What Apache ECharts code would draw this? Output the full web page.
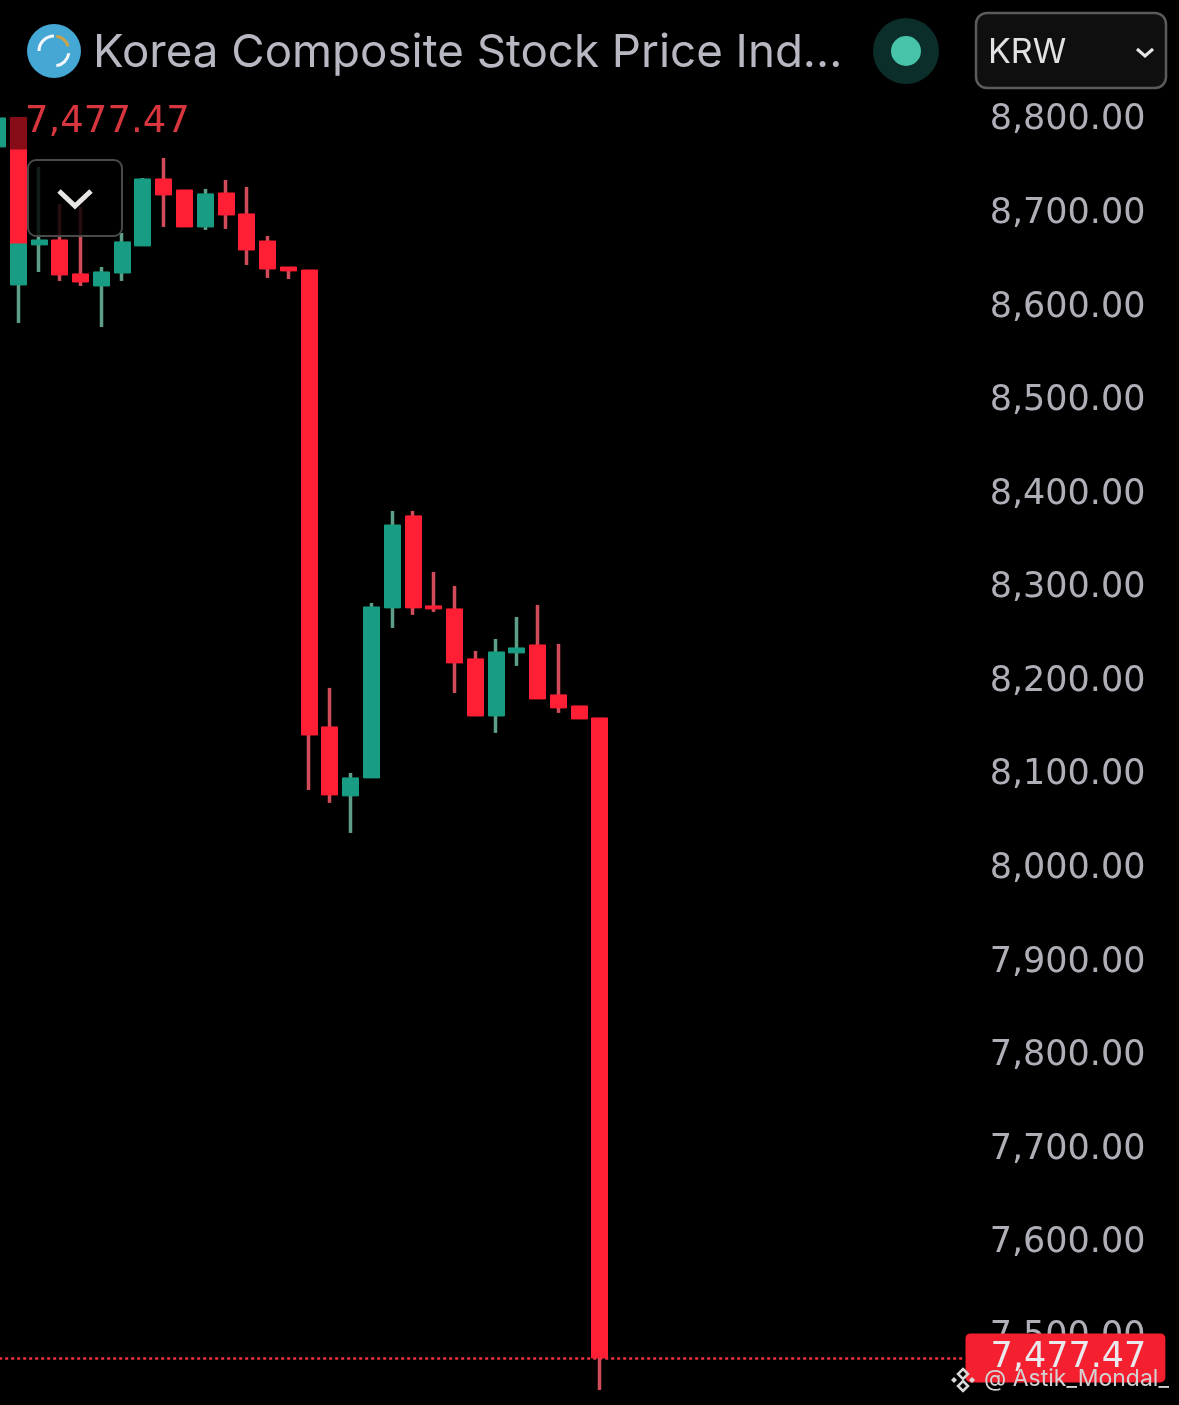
<!DOCTYPE html>
<html>
<head>
<meta charset="utf-8">
<style>html,body{margin:0;padding:0;background:#000}#c{width:1179px;height:1405px}</style>
<script src="https://cdn.jsdelivr.net/npm/echarts@6/dist/echarts.min.js"></script>
</head>
<body>
<div id="c"></div>
<script>
const titleText = 'Korea Composite Stock Price Ind...';
const currency = 'KRW';
const lastPriceText = '7,477.47';
const lastPrice = 7477.47;
const watermark = '@ Astik_Mondal_';
const tickLabels = [8800,8700,8600,8500,8400,8300,8200,8100,8000,7900,7800,7700,7600,7500];
// [open, close, low, high]
const candles = [
 [8771.6,8802.6,8771.6,8802.6],
 [8624.1,8667.9,8583.5,8667.9],
 [8666.9,8672.2,8638.0,8750.2],
 [8672.2,8634.8,8628.4,8710.7],
 [8635.9,8627.3,8623.0,8707.5],
 [8623.0,8638.0,8579.2,8643.3],
 [8636.9,8670.1,8628.4,8679.7],
 [8665.8,8737.4,8665.8,8738.4],
 [8737.4,8720.3,8686.1,8759.8],
 [8725.6,8686.1,8686.1,8725.6],
 [8686.1,8721.4,8682.9,8726.7],
 [8722.4,8698.9,8684.0,8736.3],
 [8700.0,8661.5,8645.5,8728.8],
 [8671.1,8641.2,8631.6,8676.5],
 [8643.3,8639.1,8630.5,8643.3],
 [8640.1,8143.2,8084.5,8640.1],
 [8151.8,8079.1,8070.6,8193.5],
 [8078.1,8097.3,8038.5,8102.6],
 [8097.3,8280.0,8097.3,8284.3],
 [8279.0,8367.6,8257.6,8382.6],
 [8377.3,8279.0,8271.5,8382.6],
 [8281.1,8277.9,8274.7,8317.4],
 [8277.9,8220.2,8188.1,8302.5],
 [8224.5,8163.5,8163.5,8233.0],
 [8163.5,8231.9,8145.4,8245.8],
 [8230.9,8236.2,8217.0,8269.3],
 [8239.4,8181.7,8181.7,8282.2],
 [8186.0,8172.1,8166.8,8240.5],
 [8174.2,8160.3,8160.3,8174.2],
 [8161.4,7477.47,7443.3,8161.4]
];
// Second candle drawn on the same slot as the second entry above, and its darker top
const overlapRed = [8802.6,8667.9];
const overlapDark = [8802.6,8769.4];
const slotCount = 47;
const overlapSlot = 1;

const categories = Array.from({length: slotCount}, (_, i) => String(i + 1));
const RED = '#ff1f35', TEAL = '#189c83', RED_WICK = '#d04c5a', TEAL_WICK = '#5f9f88';
const BAND = 16.5;

const wickData = candles.map(c => c);
const bodyData = candles.map(c => [c[0], c[1], Math.min(c[0], c[1]), Math.max(c[0], c[1])]);
const single = (v) => categories.map((_, i) => i === overlapSlot ? [v[0], v[1], Math.min(v[0], v[1]), Math.max(v[0], v[1])] : '-');

function candleSeries(name, data, up, down, width, bw, extra) {
  return Object.assign({
    name, type: 'candlestick', data, barWidth: width,
    itemStyle: {color: up, color0: down, borderColor: up, borderColor0: down, borderWidth: bw, borderColorDoji: up},
    silent: true, animation: false
  }, extra || {});
}

const chart = echarts.init(document.getElementById('c'), null, {renderer: 'canvas'});
const FONT = 'Inter, "Noto Sans", sans-serif';
const NUM = '"DejaVu Sans", sans-serif';

chart.setOption({
  backgroundColor: '#000',
  animation: false,
  title: {
    text: titleText, left: 88, top: 25,
    textStyle: {color: '#b7b8c2', fontFamily: FONT, fontWeight: 400, fontSize: 45.7}
  },
  grid: {left: -12.8, right: 215.5, top: 26.8, bottom: -25.4, containLabel: false, outerBoundsMode: 'none'},
  xAxis: {
    type: 'category', data: categories, boundaryGap: true,
    axisLine: {show: false}, axisTick: {show: false}, axisLabel: {show: false}, splitLine: {show: false}
  },
  yAxis: {
    type: 'value', position: 'right', min: 7400, max: 8900, interval: 100, scale: true,
    axisLine: {show: false}, axisTick: {show: false}, splitLine: {show: false},
    axisLabel: {
      customValues: tickLabels, inside: false, margin: 182, align: 'right',
      color: '#aeafb7', fontFamily: NUM, fontSize: 35, padding: [0, 0, 4, 0],
      formatter: v => v.toLocaleString('en-US', {minimumFractionDigits: 2, maximumFractionDigits: 2})
    }
  },
  series: [
    candleSeries('wicks', wickData, TEAL_WICK, RED_WICK, 1, 3.5),
    candleSeries('overlapRed', single(overlapRed), RED, RED, BAND, 1, {z: 3}),
    candleSeries('overlapDark', single(overlapDark), '#860c18', '#860c18', BAND, 1, {z: 4}),
    candleSeries('bodies', bodyData, TEAL, RED, BAND, 1, {
      z: 3,
      markLine: {
        silent: true, symbol: 'none', animation: false,
        data: [{yAxis: lastPrice}],
        lineStyle: {color: '#f03040', type: [3, 3], width: 2.5},
        label: {
          show: true, position: 'end', distance: 2, formatter: lastPriceText,
          color: '#e9e9ee', fontFamily: NUM, fontSize: 35, lineHeight: 36,
          backgroundColor: '#f5202f', borderRadius: 5,
          padding: [5, 19, 8, 25]
        }
      }
    })
  ],
  graphic: [
    {type: 'text', z: 100, style: {x: 25, y: 104, text: lastPriceText, fill: '#d8363e', font: '37px ' + NUM}},
    // collapse button above the candles
    {type: 'rect', z: 100, shape: {x: 28, y: 160, width: 94, height: 76, r: 8}, style: {fill: 'rgba(0,0,0,0.82)', stroke: '#4a4a4a', lineWidth: 2}},
    {type: 'polyline', z: 101, shape: {points: [[59, 191], [75, 206], [91, 191]]}, style: {stroke: '#e8e6e3', lineWidth: 5, fill: 'none'}},
    // logo
    {type: 'circle', z: 100, shape: {cx: 54, cy: 51, r: 27}, style: {fill: '#45a7d3'}},
    {type: 'arc', z: 101, shape: {cx: 54, cy: 51, r: 15, startAngle: Math.PI * 1.0, endAngle: Math.PI * 1.5}, style: {stroke: '#f2f7fa', lineWidth: 3, fill: 'none'}},
    {type: 'arc', z: 101, shape: {cx: 54, cy: 51, r: 15, startAngle: Math.PI * 0.05, endAngle: Math.PI * 0.45}, style: {stroke: '#f2f7fa', lineWidth: 3, fill: 'none'}},
    {type: 'arc', z: 101, shape: {cx: 54, cy: 51, r: 15, startAngle: Math.PI * 1.55, endAngle: Math.PI * 1.9}, style: {stroke: '#c9a24a', lineWidth: 3, fill: 'none'}},
    // status dot
    {type: 'circle', z: 100, shape: {cx: 906, cy: 51, r: 33}, style: {fill: '#0c2e2b'}},
    {type: 'circle', z: 101, shape: {cx: 906, cy: 51, r: 15}, style: {fill: '#46c3a9'}},
    // currency selector
    {type: 'rect', z: 100, shape: {x: 976, y: 13, width: 190, height: 75, r: 11}, style: {fill: '#0f0f10', stroke: '#5b5b5c', lineWidth: 2.5}},
    {type: 'text', z: 101, style: {x: 988, y: 36, text: currency, fill: '#e2e2e4', font: '34px ' + FONT}},
    {type: 'polyline', z: 101, shape: {points: [[1137, 49], [1145, 56], [1153, 49]]}, style: {stroke: '#e6e6e6', lineWidth: 3, fill: 'none'}},
    // watermark
    {type: 'polygon', z: 102, shape: {points: [[963, 1369], [968, 1374], [963, 1379], [958, 1374]]}, style: {fill: 'none', stroke: '#d8d8d8', lineWidth: 2.5}},
    {type: 'polygon', z: 102, shape: {points: [[963, 1381], [968, 1386], [963, 1391], [958, 1386]]}, style: {fill: 'none', stroke: '#d8d8d8', lineWidth: 2.5}},
    {type: 'polygon', z: 102, shape: {points: [[954, 1377], [957, 1380], [954, 1383], [951, 1380]]}, style: {fill: '#d8d8d8'}},
    {type: 'polygon', z: 102, shape: {points: [[972, 1377], [975, 1380], [972, 1383], [969, 1380]]}, style: {fill: '#d8d8d8'}},
    {type: 'text', z: 102, style: {x: 984, y: 1368, text: watermark, fill: '#d2d2d4', font: '23px ' + FONT}}
  ]
});
</script>
</body>
</html>
